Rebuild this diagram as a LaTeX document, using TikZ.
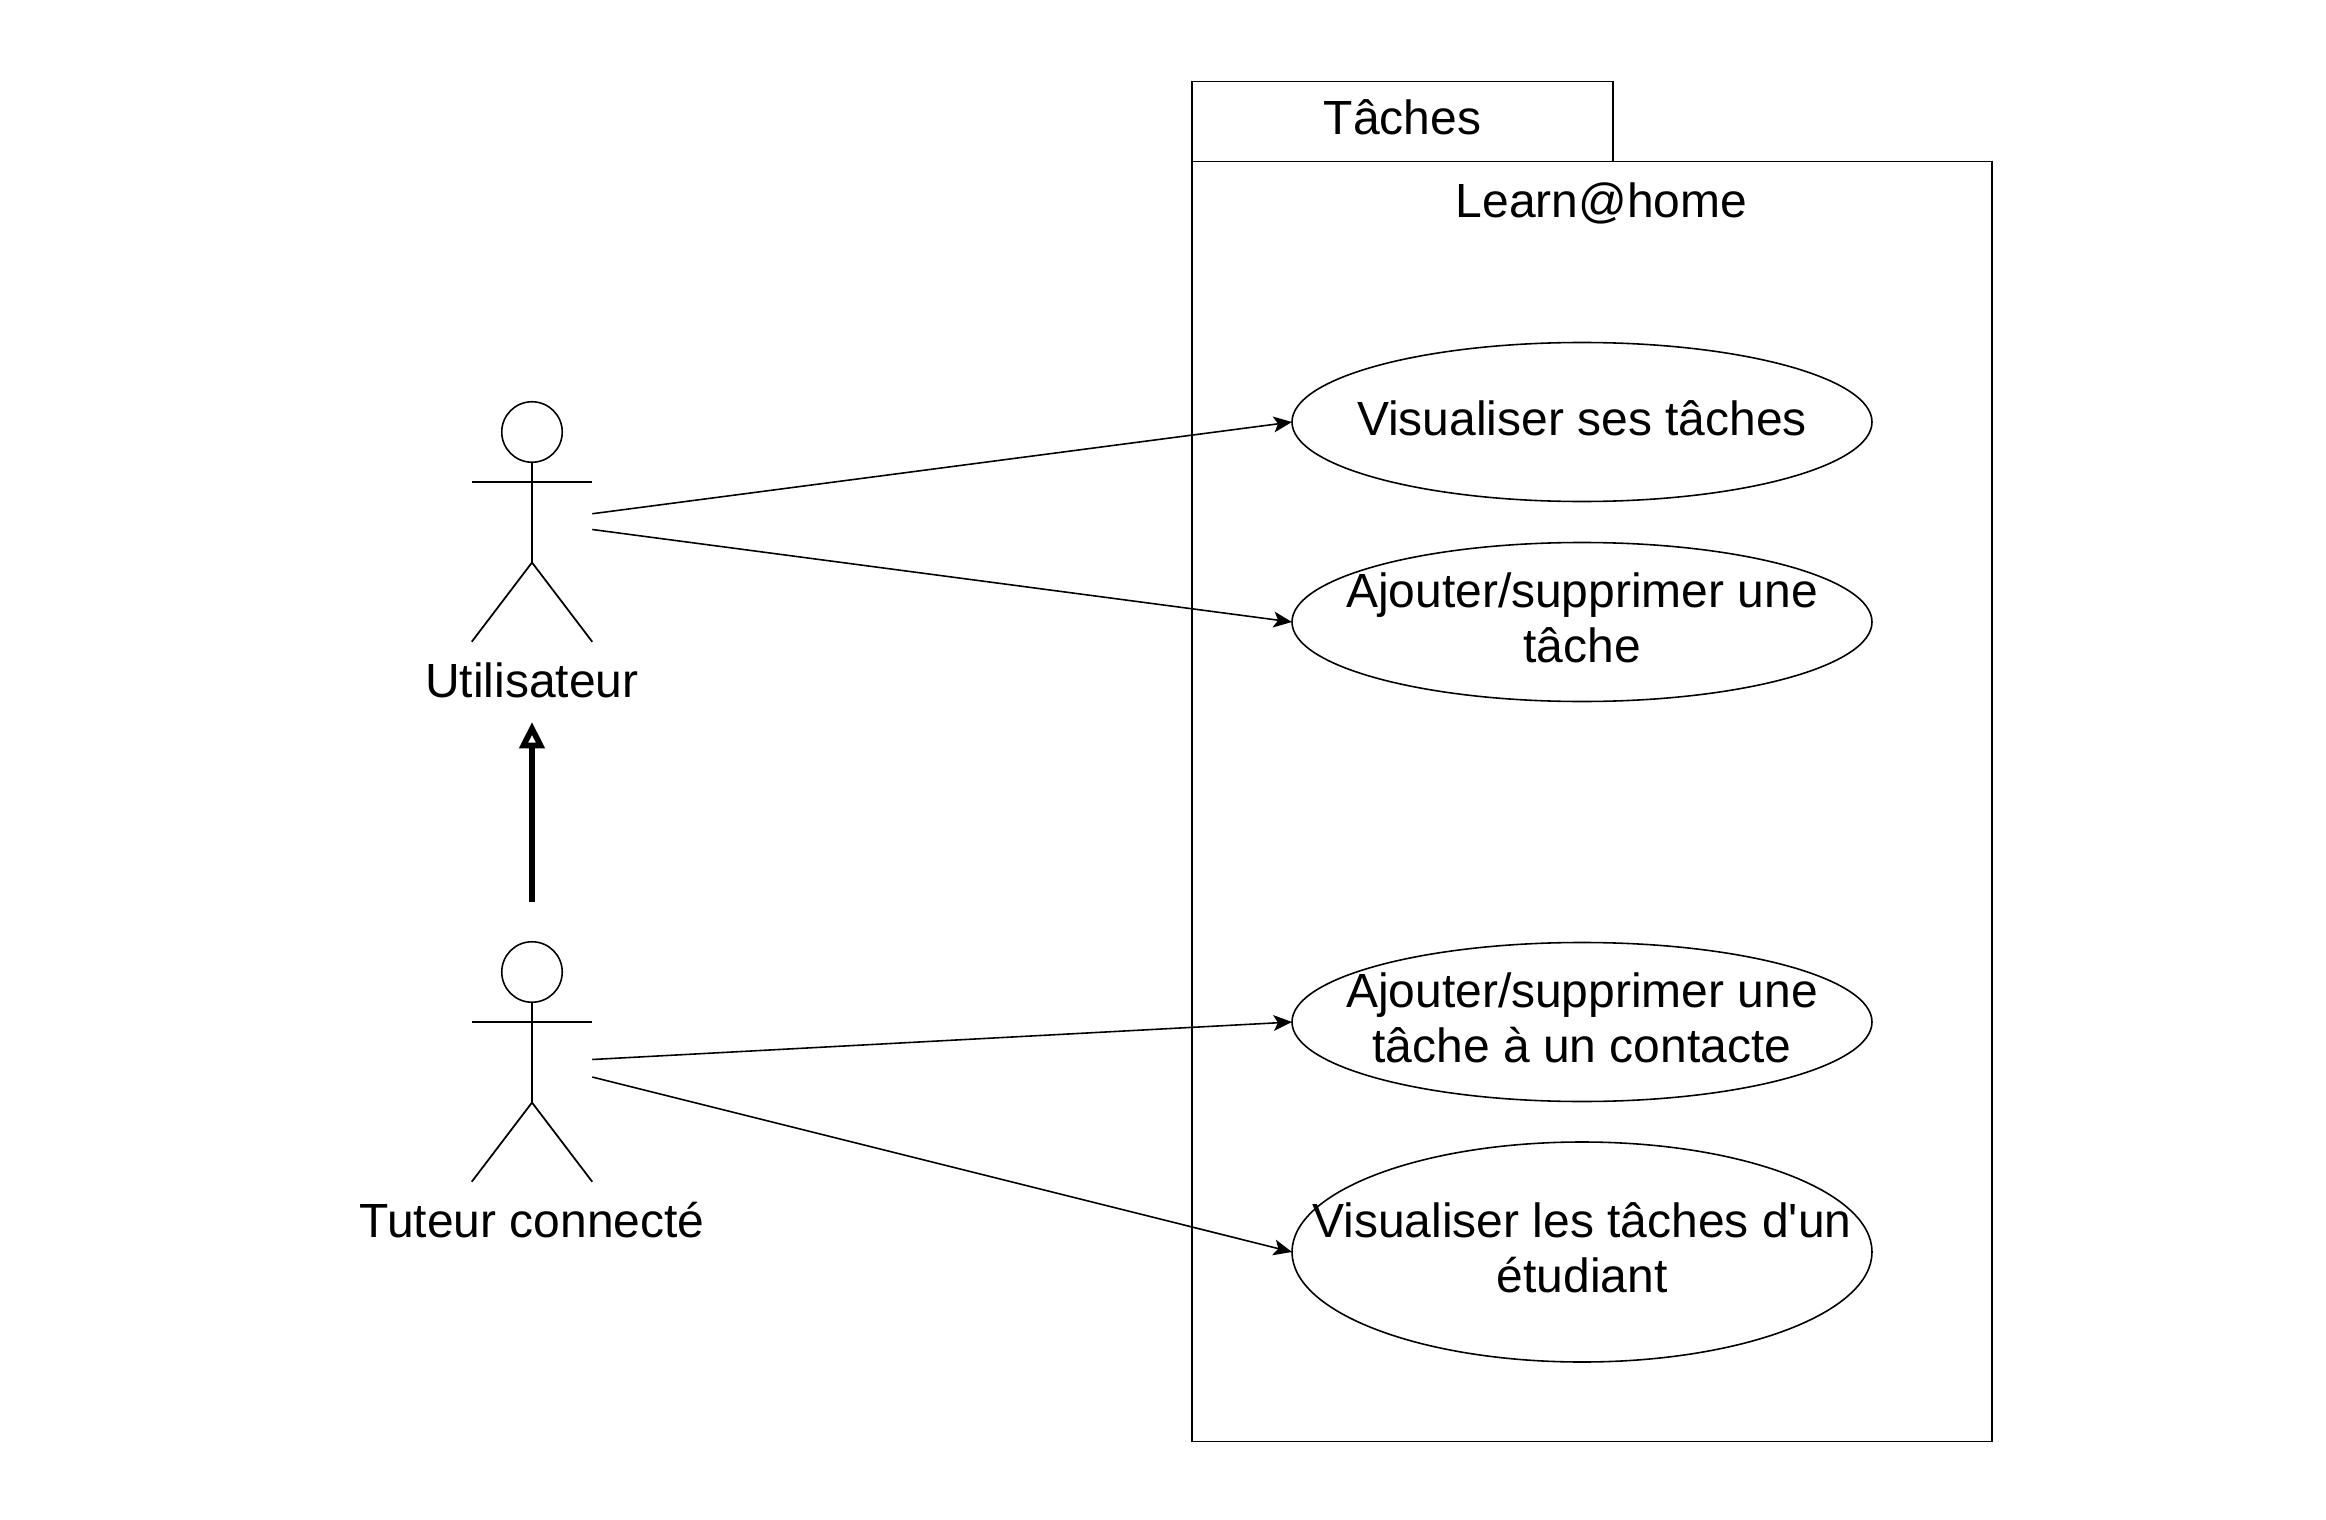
\documentclass[tikz,border=0pt]{standalone}
\usepackage{fontspec}
\setmainfont{Liberation Sans}
\usepackage{tikz}
\usetikzlibrary{shapes.geometric,arrows.meta}
\newcommand{\umlfont}{\fontsize{27.3}{31.4}\selectfont}
\tikzstyle{system} = [draw, rectangle, line width=1pt, inner sep=0pt, outer sep=0pt]
\tikzstyle{usecase} = [draw, ellipse, line width=0.9pt, inner sep=0pt, outer sep=0pt,
    minimum width=11.6cm, minimum height=3.18cm]
\tikzstyle{casetext} = [font=\umlfont, align=center, inner sep=0pt, yshift=0.08cm]
\tikzstyle{head} = [draw, circle, line width=0.9pt, minimum size=1.21cm, inner sep=0pt, outer sep=0pt]
\tikzstyle{limb} = [line width=1pt]
\tikzstyle{actorname} = [font=\umlfont, inner sep=0pt]
\tikzstyle{point} = [coordinate]
\tikzstyle{assoc} = [line width=0.9pt, -{Stealth[length=10.5pt,width=9pt,inset=2.5pt]}]
\tikzstyle{inherit} = [line width=3.4pt, -{Triangle[open,length=15pt,width=14pt,line width=3.2pt,fill=white]}]

\begin{document}
\begin{tikzpicture}[node distance=2cm]
    \useasboundingbox (0,0) rectangle (46.52,-30.4);

    % % % % % % % % % % % % % % % % % % % % % % %
    % Package
    % % % % % % % % % % % % % % % % % % % % % % %
    \node [system, minimum width=16.01cm, minimum height=25.6cm] (body) at (31.84,-16.03) {};
    \node [system, minimum width=8.43cm, minimum height=1.6cm, anchor=south west,
        label={[casetext]center:Tâches}] (tab) at (body.north west) {};
    \node [font=\umlfont, inner sep=0pt, xshift=0.19cm, yshift=-0.83cm] (title) at (body.north) {Learn@home};

    % Use cases
    \node [usecase, label={[casetext]center:Visualiser ses tâches}] (seeown) at (31.64,-8.44) {};
    \node [usecase, below of=seeown, node distance=4cm,
        label={[casetext]center:Ajouter/supprimer une\\tâche}] (edit) {};
    \node [usecase, below of=edit, node distance=8cm,
        label={[casetext]center:Ajouter/supprimer une\\tâche à un contacte}] (editcontact) {};
    \node [usecase, below of=editcontact, node distance=4.6cm, minimum height=4.4cm,
        label={[casetext]center:Visualiser les tâches d\textquotesingle un\\étudiant}] (seestudent) {};

    % % % % % % % % % % % % % % % % % % % % % % %
    % Utilisateur
    % % % % % % % % % % % % % % % % % % % % % % %
    \node [head] (headu) at (10.64,-8.64) {};
    \node [point, below of=headu, node distance=1.005cm] (armsu) {};
    \node [point, left of=armsu, node distance=1.205cm] (armlu) {};
    \node [point, right of=armsu, node distance=1.205cm] (armru) {};
    \node [point, below of=headu, node distance=2.61cm] (hipu) {};
    \node [point, below of=armlu, node distance=3.19cm] (footlu) {};
    \node [point, below of=armru, node distance=3.19cm] (footru) {};
    \node [actorname, below of=hipu, node distance=2.35cm] (nameu) {Utilisateur};

    \draw [limb] (headu) -- (hipu);
    \draw [limb] (armlu) -- (armru);
    \draw [limb] (footlu) -- (hipu) -- (footru);

    % Start of the two associations
    \node [point, below of=armru, node distance=0.63cm] (outu1) {};
    \node [point, below of=armru, node distance=0.945cm] (outu2) {};
    \draw [assoc] (outu1) -- (seeown.west);
    \draw [assoc] (outu2) -- (edit.west);

    % % % % % % % % % % % % % % % % % % % % % % %
    % Tuteur
    % % % % % % % % % % % % % % % % % % % % % % %
    \node [head, below of=headu, node distance=10.8cm] (headt) {};
    \node [point, below of=headt, node distance=1.005cm] (armst) {};
    \node [point, left of=armst, node distance=1.205cm] (armlt) {};
    \node [point, right of=armst, node distance=1.205cm] (armrt) {};
    \node [point, below of=headt, node distance=2.61cm] (hipt) {};
    \node [point, below of=armlt, node distance=3.19cm] (footlt) {};
    \node [point, below of=armrt, node distance=3.19cm] (footrt) {};
    \node [actorname, below of=hipt, node distance=2.35cm] (namet) {Tuteur connecté};

    \draw [limb] (headt) -- (hipt);
    \draw [limb] (armlt) -- (armrt);
    \draw [limb] (footlt) -- (hipt) -- (footrt);

    \node [point, below of=armrt, node distance=0.745cm] (outt1) {};
    \node [point, below of=armrt, node distance=1.095cm] (outt2) {};
    \draw [assoc] (outt1) -- (editcontact.west);
    \draw [assoc] (outt2) -- (seestudent.west);

    % Tuteur inherits from Utilisateur
    \draw [inherit, shorten <=0.8cm, shorten >=0.48cm] (headt) -- (nameu);
\end{tikzpicture}
\end{document}
